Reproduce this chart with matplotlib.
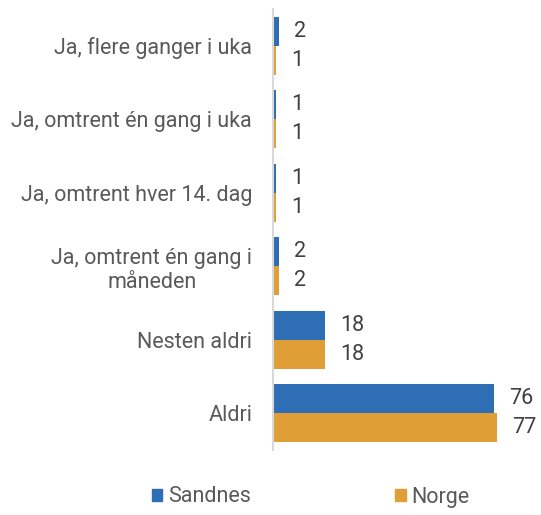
import numpy as np
import matplotlib.pyplot as plt
from matplotlib.patches import Patch

plt.rcParams['font.family'] = ['Roboto', 'DejaVu Sans']

categories = [
    'Ja, flere ganger i uka',
    'Ja, omtrent én gang i uka',
    'Ja, omtrent hver 14. dag',
    'Ja, omtrent én gang i\nmåneden',
    'Nesten aldri',
    'Aldri',
]
sandnes = [2, 1, 1, 2, 18, 76]
norge = [1, 1, 1, 2, 18, 77]
series_names = ['Sandnes', 'Norge']
colors = ['#2E6EB5', '#E09F36']

text_color = '#595959'
value_color = '#404040'
fs = 15.5

fig = plt.figure(figsize=(5.41, 5.15), dpi=100)
ax = fig.add_axes([273 / 541, 65 / 515, 262 / 541, 441 / 515])

y = np.arange(len(categories))
h = 0.395
ax.barh(y - h / 2, sandnes, height=h, color=colors[0])
ax.barh(y + h / 2, norge, height=h, color=colors[1])

for yi, v in zip(y, sandnes):
    ax.annotate(str(v), (v, yi - h / 2), xytext=(11, 0), textcoords='offset points',
                va='center', ha='left', fontsize=fs, color=value_color)
for yi, v in zip(y, norge):
    ax.annotate(str(v), (v, yi + h / 2), xytext=(11, 0), textcoords='offset points',
                va='center', ha='left', fontsize=fs, color=value_color)

ax.set_xlim(0, 90)
ax.set_ylim(len(categories) - 0.5, -0.5)
ax.set_yticks(y)
ax.set_yticklabels(categories, fontsize=fs, color=text_color, linespacing=1.2,
                   multialignment='center')
ax.set_xticks([])
ax.tick_params(axis='y', length=0, pad=15)
for s in ['top', 'right', 'bottom']:
    ax.spines[s].set_visible(False)
ax.spines['left'].set_color('#D9D9D9')
ax.spines['left'].set_linewidth(1.5)

handles = [Patch(color=c, label=n) for c, n in zip(colors, series_names)]
leg = fig.legend(handles=handles, loc='center', bbox_to_anchor=(311 / 541, 1 - 497 / 515),
                 ncol=2, frameon=False, fontsize=fs, handlelength=0.47, handleheight=0.47,
                 handletextpad=0.28, columnspacing=6.7, borderpad=0)
for t in leg.get_texts():
    t.set_color(text_color)

fig.savefig('out.png', dpi=100)
